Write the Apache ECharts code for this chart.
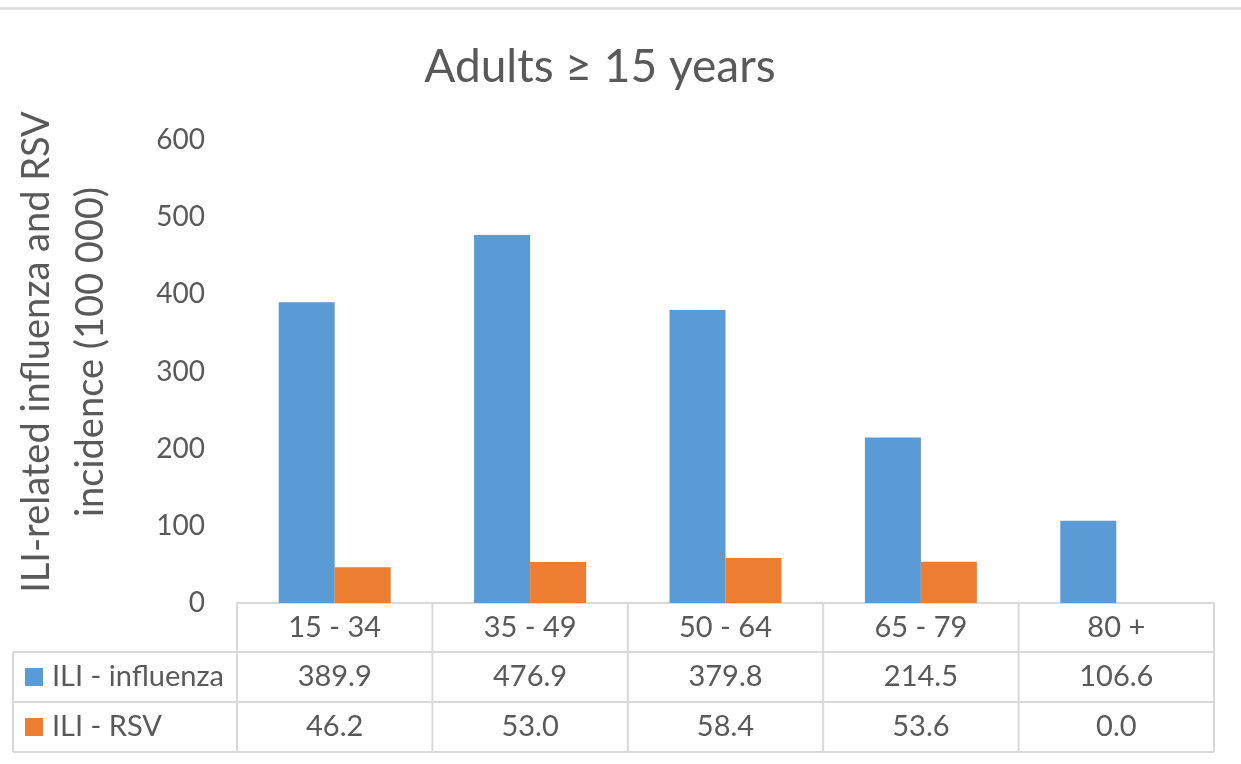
<!DOCTYPE html>
<html>
<head>
<meta charset="utf-8">
<script src="https://cdn.jsdelivr.net/npm/echarts@6/dist/echarts.min.js"></script>
<style>
  html, body { margin: 0; padding: 0; background: #ffffff; }
  #chart { width: 1241px; height: 764px; }
</style>
</head>
<body>
<div id="chart"></div>
<script>
// Age groups and incidence per 100 000
const categories = ['15 - 34', '35 - 49', '50 - 64', '65 - 79', '80 +'];
const influenza = [389.9, 476.9, 379.8, 214.5, 106.6];
const rsv = [46.2, 53.0, 58.4, 53.6, 0.0];
const seriesNames = ['ILI - influenza', 'ILI - RSV'];
const seriesColors = ['#5B9BD5', '#ED7D31'];
const titleText = 'Adults \u2265 15 years';
const yTitle = 'ILI-related influenza and RSV\nincidence (100 000)';

const FONT = 'Lato';
const TXT = '#595959';
const BORDER = '#d9d9d9';
const TABLE_FONT = 29;

const chart = echarts.init(document.getElementById('chart'), null, { renderer: 'canvas' });

const baseOption = {
  animation: false,
  backgroundColor: '#ffffff',
  textStyle: { fontFamily: FONT },
  grid: { left: 237, right: 27, top: 140, bottom: 161, containLabel: false },
  xAxis: {
    type: 'category',
    data: categories,
    axisLine: { show: true, lineStyle: { color: BORDER, width: 2 } },
    axisTick: { show: false },
    axisLabel: { color: TXT, fontSize: TABLE_FONT, fontFamily: FONT, margin: 10 },
    splitLine: { show: false }
  },
  yAxis: {
    type: 'value',
    min: 0,
    max: 600,
    interval: 100,
    axisLine: { show: false },
    axisTick: { show: false },
    splitLine: { show: false },
    axisLabel: { color: TXT, fontSize: 28, fontFamily: FONT, margin: 32 }
  },
  series: [
    { name: seriesNames[0], type: 'bar', data: influenza, barWidth: 56, barGap: '0%',
      itemStyle: { color: seriesColors[0] } },
    { name: seriesNames[1], type: 'bar', data: rsv, barWidth: 56, barGap: '0%',
      itemStyle: { color: seriesColors[1] } }
  ]
};

chart.setOption(baseOption);

// Data table under the plot, aligned to the category axis
function buildTable() {
  const n = categories.length;
  const y0 = chart.convertToPixel({ yAxisIndex: 0 }, 0);
  const c0 = chart.convertToPixel({ xAxisIndex: 0 }, 0);
  const c1 = chart.convertToPixel({ xAxisIndex: 0 }, 1);
  const step = c1 - c0;
  const left = c0 - step / 2;
  const right = left + step * n;
  const rowH = 50;
  const r1 = y0 + 49;
  const r2 = r1 + rowH;
  const r3 = r2 + rowH;
  const tableLeft = 13;
  const els = [];
  const line = (x1, y1, x2, y2) => els.push({
    type: 'line', silent: true,
    shape: { x1, y1, x2, y2 },
    style: { stroke: BORDER, lineWidth: 2 }
  });
  [r1, r2, r3].forEach(y => line(tableLeft, y, right, y));
  line(tableLeft, r1, tableLeft, r3);
  for (let i = 0; i <= n; i++) {
    const x = left + step * i;
    line(x, y0, x, r3);
  }
  const rows = [influenza, rsv];
  const rowTops = [r1, r2];
  rows.forEach((vals, ri) => {
    const cy = rowTops[ri] + rowH / 2;
    els.push({
      type: 'rect', silent: true,
      shape: { x: 25, y: cy - 9, width: 18, height: 18 },
      style: { fill: seriesColors[ri] }
    });
    els.push({
      type: 'text', silent: true,
      style: { x: 52, y: cy, text: seriesNames[ri], fill: TXT, font: TABLE_FONT + 'px ' + FONT,
        textAlign: 'left', textVerticalAlign: 'middle' }
    });
    vals.forEach((v, i) => {
      els.push({
        type: 'text', silent: true,
        style: { x: chart.convertToPixel({ xAxisIndex: 0 }, i), y: cy, text: v.toFixed(1),
          fill: TXT, font: TABLE_FONT + 'px ' + FONT, textAlign: 'center', textVerticalAlign: 'middle' }
      });
    });
  });
  // top frame line
  els.push({ type: 'line', silent: true, shape: { x1: 0, y1: 8.5, x2: 1241, y2: 8.5 },
    style: { stroke: '#dcdcdc', lineWidth: 2.5 } });
  // chart title
  els.push({ type: 'text', silent: true,
    style: { x: 600, y: 67, text: titleText, fill: TXT, font: '46px ' + FONT,
      textAlign: 'center', textVerticalAlign: 'middle' } });
  // vertical axis title
  els.push({ type: 'text', silent: true, rotation: Math.PI / 2, x: 64, y: 352,
    style: { x: 0, y: 0, text: yTitle, fill: TXT, font: '38px ' + FONT, lineHeight: 54,
      textAlign: 'center', textVerticalAlign: 'middle' } });
  chart.setOption({ graphic: { elements: els } });
}
buildTable();
</script>
</body>
</html>
